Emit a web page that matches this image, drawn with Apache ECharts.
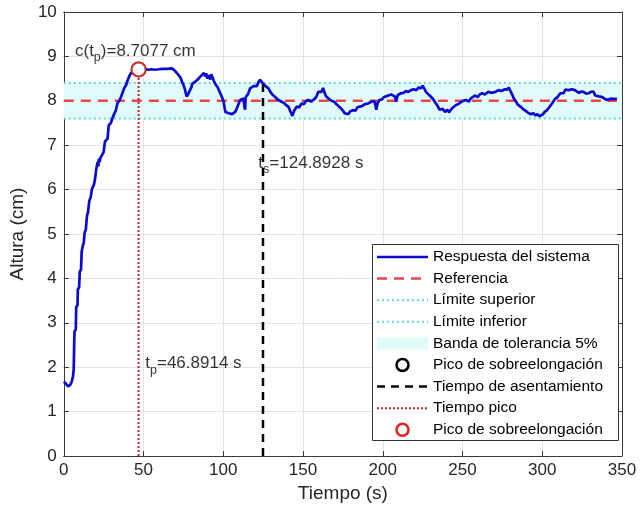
<!DOCTYPE html>
<html><head><meta charset="utf-8">
<script src="https://cdn.jsdelivr.net/npm/echarts@6/dist/echarts.min.js"></script>
<style>html,body{margin:0;padding:0;background:#fff}#c{width:640px;height:509px}</style>
</head><body><div id="c"></div>
<script>
// ---- data ----
const tiempo = [0,1.5,2.5,4,5,5.8,6.2,6.5,6.7,7.5,7.8,8.6,8.8,9.6,10,10.8,11.2,11.8,12.5,13,13.8,14.5,15.2,16,16.8,17.7,18.8,19.5,20.3,21.2,21.6,22,22.5,23,24.3,25,25.8,27,27.4,28.2,29.5,30.6,31.5,32.6,33.7,34.8,35.8,37,37.8,39,39.9,41,42,43,44.1,45.5,46.8914,48,49.3,51,53,55,57,59.7,62,65,68,69.5,71,72,73.2,74.2,75,76,77,77.4,78,78.8,80,80.5,82,83.6,85,86.5,87.8,88.5,89.3,90,90.9,91.8,92.5,93,94,95,96.5,98.1,99.2,100.2,100.8,101.3,102.5,103.5,104.4,105.5,106.5,107.5,108.5,109.5,110.6,111.5,112.7,113.3,113.7,114,115.5,116.8,118,119,120,121,122,123.1,124.9,125.5,126.5,128.3,129.5,131,132.4,134,135,136.6,138,139.5,140.8,141.8,142.6,143.3,144.5,146,147.5,149.1,150.5,151.5,153.3,155,157.4,158.5,159.5,160.5,161.5,162.6,163.5,164.7,166,167.8,169.5,171,172,173.5,175,176.1,177.2,178.5,179.5,181.3,183,184,185.5,187,188.5,190.7,192.8,194.8,195.5,195.9,196.8,198,199.5,200.5,202.1,203.5,205.2,206.3,207.5,208.4,209.4,211.5,213,214.5,216,217.7,219.5,221,222.5,224,225,226,227.1,228.5,230.2,231.5,233.3,234.5,235.5,236.4,237.5,239,240.5,241.5,242.7,244,245.8,247.5,249,250.5,252,253,254,255,256.2,258,259.5,261,262.4,264,266,268,270.7,272.5,274.5,276.5,278,279,280.2,281,282.2,283.3,284.5,286.3,287.5,288.5,290,291.5,293,294.5,295.7,297,298.2,299.4,300.5,301.5,303,304.5,306.1,307.2,308.2,309.5,311.3,312.5,313.4,314.4,315.5,316.5,317.5,318.5,319.6,320.5,321.7,323,324.5,325.8,327.5,329,330.5,332.1,333.2,334.2,335.5,337.3,338.5,340.4,341.5,343.5,345,346.8];
const altura = [1.67,1.62,1.57,1.6,1.68,1.8,1.95,2.5,2.8,2.85,3.35,3.4,3.75,3.8,4.15,4.2,4.6,4.72,4.8,5.02,5.1,5.4,5.5,5.75,5.82,6.02,6.1,6.22,6.45,6.62,6.52,6.7,6.62,6.72,6.8,6.85,7.08,7.1,7.15,7.45,7.5,7.62,7.7,7.78,7.95,8.0,8.08,8.2,8.28,8.35,8.45,8.55,8.62,8.66,8.69,8.7,8.7077,8.7,8.71,8.72,8.7,8.71,8.7,8.71,8.72,8.72,8.73,8.68,8.62,8.58,8.52,8.42,8.36,8.25,8.1,8.06,8.15,8.22,8.3,8.38,8.42,8.47,8.52,8.58,8.63,8.55,8.62,8.5,8.58,8.48,8.6,8.57,8.45,8.38,8.3,8.17,8.08,7.98,7.85,7.75,7.76,7.72,7.75,7.7,7.67,7.75,7.83,7.92,8.02,7.98,8.05,7.85,7.8,8.08,8.15,8.28,8.25,8.33,8.36,8.33,8.42,8.47,8.39,8.4,8.33,8.28,8.2,8.13,8.09,8.03,8.05,7.98,7.95,7.9,7.87,7.78,7.72,7.66,7.78,7.87,7.85,7.94,7.92,7.98,8.02,7.98,8.05,8.1,8.2,8.24,8.2,8.29,8.18,8.09,8.05,8.0,7.98,7.92,7.9,7.84,7.78,7.72,7.73,7.7,7.76,7.79,7.78,7.85,7.87,7.88,7.92,7.94,7.98,7.99,7.88,7.8,7.95,8.02,8.03,8.08,8.1,8.12,8.14,8.17,8.1,7.98,8.13,8.17,8.18,8.22,8.2,8.24,8.26,8.24,8.3,8.28,8.34,8.3,8.2,8.15,8.09,8.04,7.94,7.88,7.8,7.78,7.82,7.75,7.8,7.74,7.8,7.85,7.9,7.93,7.97,8.0,8.02,8.06,7.98,8.05,8.09,8.12,8.08,8.15,8.17,8.14,8.2,8.18,8.2,8.24,8.22,8.26,8.25,8.3,8.26,8.15,8.05,8.0,7.92,7.87,7.84,7.8,7.76,7.72,7.7,7.72,7.67,7.7,7.65,7.62,7.7,7.75,7.79,7.86,7.94,7.98,8.05,8.08,8.17,8.15,8.17,8.25,8.22,8.24,8.22,8.26,8.28,8.24,8.2,8.18,8.21,8.2,8.16,8.17,8.2,8.21,8.12,8.09,8.1,8.09,8.05,8.02,8.04,8.05,8.04,8.05];
const referencia = 8;
const limiteSuperior = 8.4;
const limiteInferior = 7.6;
const tFin = 346.8;
const tPico = 46.8914;
const cPico = 8.7077;
const tAsentamiento = 124.8928;
const cAsentamiento = 8.39;
const xMin = 0, xMax = 350, xStep = 50;
const yMin = 0, yMax = 10, yStep = 1;
const legendNames = ['Respuesta del sistema','Referencia','Límite superior','Límite inferior','Banda de tolerancia 5%','Pico de sobreelongación','Tiempo de asentamiento','Tiempo pico','Pico de sobreelongación'];

// ---- chart ----
const FONT = '"Liberation Sans", Arial, Helvetica, sans-serif';
const chart = echarts.init(document.getElementById('c'), null, {renderer:'canvas'});
const resp = tiempo.map((t,i)=>[t, altura[i]]);

const C_BLUE = '#0a0ad0', C_REF = '#e8474a', C_CYAN = '#5fdada', C_BAND = '#e1fbfb', C_TP = '#c0272d';

const axisCommon = {
  min: xMin, max: xMax, interval: xStep,
  axisLine: {show:true, onZero:false, lineStyle:{color:'#3a3a3a', width:1}},
  axisTick: {show:true, inside:true, length:5, lineStyle:{color:'#3a3a3a'}},
};

const option = {
  animation: false,
  backgroundColor: '#fff',
  grid: {left:61, right:18, top:12, bottom:53, containLabel:false},
  xAxis: [
    Object.assign({type:'value', position:'bottom',
      axisLabel:{color:'#262626', fontSize:17, fontFamily:FONT, margin:6},
      splitLine:{show:true, lineStyle:{color:'#e3e3e3', width:1}},
      name:'Tiempo (s)', nameLocation:'middle', nameGap:28,
      nameTextStyle:{color:'#262626', fontSize:19, fontFamily:FONT}}, axisCommon),
    Object.assign({type:'value', position:'top', axisLabel:{show:false}, splitLine:{show:false}}, axisCommon)
  ],
  yAxis: [
    {type:'value', position:'left', min:yMin, max:yMax, interval:yStep,
      axisLine:{show:true, onZero:false, lineStyle:{color:'#3a3a3a'}},
      axisTick:{show:true, inside:true, length:5, lineStyle:{color:'#3a3a3a'}},
      axisLabel:{color:'#262626', fontSize:17, fontFamily:FONT, margin:7},
      splitLine:{show:true, lineStyle:{color:'#e3e3e3', width:1}},
      name:'Altura (cm)', nameLocation:'middle', nameGap:33,
      nameTextStyle:{color:'#262626', fontSize:19, fontFamily:FONT}},
    {type:'value', position:'right', min:yMin, max:yMax, interval:yStep,
      axisLine:{show:true, onZero:false, lineStyle:{color:'#3a3a3a'}},
      axisTick:{show:true, inside:true, length:5, lineStyle:{color:'#3a3a3a'}},
      axisLabel:{show:false}, splitLine:{show:false}}
  ],
  series: [
    { // tolerance band
      type:'line', name:'Banda de tolerancia 5%', data:[], silent:true,
      markArea:{silent:true, itemStyle:{color:C_BAND}, data:[[{coord:[xMin, limiteInferior]},{coord:[xMax, limiteSuperior]}]]}
    },
    {type:'line', name:'Límite superior', data:[[xMin,limiteSuperior],[xMax,limiteSuperior]], symbol:'none',
      lineStyle:{color:C_CYAN, width:2, type:[2,3]}, z:3},
    {type:'line', name:'Límite inferior', data:[[xMin,limiteInferior],[xMax,limiteInferior]], symbol:'none',
      lineStyle:{color:C_CYAN, width:2, type:[2,3]}, z:3},
    {type:'line', name:'Referencia', data:[[xMin,referencia],[tFin,referencia]], symbol:'none',
      lineStyle:{color:C_REF, width:2.5, type:[10,7]}, z:4},
    {type:'line', name:'Respuesta del sistema', data:resp, symbol:'none',
      lineStyle:{color:C_BLUE, width:2.7}, z:5},
    {type:'line', name:'Tiempo de asentamiento', data:[[tAsentamiento,0],[tAsentamiento,cAsentamiento]], symbol:'none',
      lineStyle:{color:'#000', width:2.5, type:[8,6]}, z:6},
    {type:'line', name:'Tiempo pico', data:[[tPico,0],[tPico,cPico]], symbol:'none',
      lineStyle:{color:C_TP, width:2, type:[2,2]}, z:6},
    {type:'scatter', name:'Pico de sobreelongación', data:[[tPico,cPico]], symbol:'emptyCircle', symbolSize:14,
      itemStyle:{color:'#000', borderColor:'#000', borderWidth:2}, z:7},
    {type:'scatter', name:'Pico de sobreelongación ', data:[[tPico,cPico]], symbol:'emptyCircle', symbolSize:14,
      itemStyle:{color:'#e0201c', borderColor:'#e0201c', borderWidth:2.5}, z:8},
    { // annotations
      type:'scatter', symbolSize:0, silent:true, z:9, itemStyle:{color:'#000'},
      data:[
        {value:[7.0, 9.19], label:{formatter:'{a|c(t}{s|p}{a|)=' + cPico.toFixed(4) + ' cm}'}},
        {value:[tAsentamiento-2.9, 6.67], label:{formatter:'{a|t}{s|s}{a|=' + tAsentamiento.toFixed(4) + ' s}'}},
        {value:[tPico+4.2, 2.15], label:{formatter:'{a|t}{s|p}{a|=' + tPico.toFixed(4) + ' s}'}}
      ],
      label:{show:true, position:'right', distance:0, align:'left', verticalAlign:'middle', offset:[0,3],
        color:'#000', textBorderWidth:0, textShadowBlur:0,
        rich:{
          a:{fontSize:17, fontFamily:FONT, color:'#000', lineHeight:27, verticalAlign:'middle', textBorderWidth:0},
          s:{fontSize:12.5, fontFamily:FONT, color:'#000', lineHeight:12, verticalAlign:'bottom', textBorderWidth:0}
        }}
    }
  ],
  graphic: []
};
chart.setOption(option);

// ---- legend box (MATLAB style) ----
const LX = 372, LY = 244, LW = 246, LH = 196, ROW = 21.6, Y0 = 257;
const sx0 = 377, sx1 = 428, tx = 433;
const g = [{type:'rect', shape:{x:LX+0.5, y:LY+0.5, width:LW, height:LH}, style:{fill:'#fff', stroke:'#333', lineWidth:1}, z:100}];
const samples = [
  {k:'line', c:C_BLUE, w:2.5, d:null},
  {k:'line', c:C_REF, w:2.5, d:[10,7]},
  {k:'line', c:C_CYAN, w:2, d:[2,3]},
  {k:'line', c:C_CYAN, w:2, d:[2,3]},
  {k:'band'},
  {k:'circ', c:'#000'},
  {k:'line', c:'#000', w:2.5, d:[8,6]},
  {k:'line', c:C_TP, w:2, d:[2,2]},
  {k:'circ', c:'#e0201c'}
];
samples.forEach((s,i)=>{
  const y = Y0 + i*ROW;
  if (s.k==='line') g.push({type:'line', shape:{x1:sx0,y1:y,x2:sx1,y2:y}, style:{stroke:s.c, lineWidth:s.w, lineDash:s.d}, z:101});
  else if (s.k==='band') g.push({type:'rect', shape:{x:sx0,y:y-6,width:sx1-sx0,height:12}, style:{fill:C_BAND}, z:101});
  else g.push({type:'circle', shape:{cx:(sx0+sx1)/2, cy:y, r:6}, style:{fill:'none', stroke:s.c, lineWidth:2.5}, z:101});
  g.push({type:'text', x:tx, y:y, style:{text:legendNames[i], fill:'#000', font:'15.5px ' + FONT, textVerticalAlign:'middle', textAlign:'left'}, z:101});
});
chart.setOption({graphic:g});
</script></body></html>
